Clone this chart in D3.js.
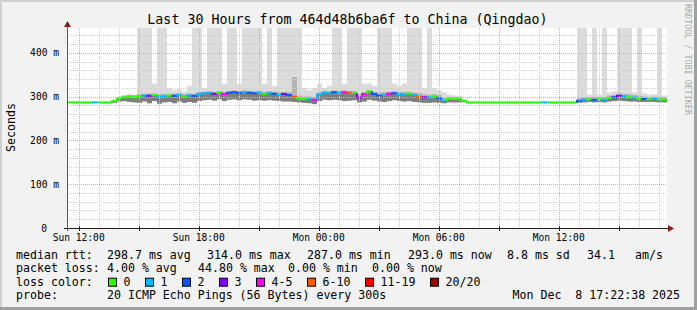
<!DOCTYPE html>
<html>
<head>
<meta charset="utf-8">
<script src="https://cdn.jsdelivr.net/npm/d3@7"></script>
<style>
  body { margin: 0; background: #fff; }
  svg { display: block; }
  text { font-family: "DejaVu Sans Mono", monospace; fill: #000; }
</style>
</head>
<body>
<svg id="chart" width="697" height="310"></svg>
<script>
// ---- data (one value per 15 minutes, 30 hours) ----
const chartTitle = 'Last 30 Hours from 464d48b6ba6f to China (Qingdao)';
const endTime = new Date(2025, 11, 8, 17, 25, 0);
const stepMinutes = 15;

const medianMs = [
  287,287,287,287,287,287,287,287,287,290,
  296,299,300,299,301,303,302,304,300,301,
  303,302,304,301,303,302,306,308,308,307,
  309,306,309,310,309,310,309,308,309,306,
  308,307,305,306,304,300,296,295,294,293,
  305,309,308,310,309,310,309,308,298,306,
  312,306,303,304,307,308,306,305,307,304,
  300,299,299,300,297,290,295,294,295,290,
  287,287,287,287,287,287,287,287,287,287,
  287,287,287,287,287,287,287,287,287,287,
  287,287,291,293,294,293,294,293,297,299,
  302,301,299,298,296,295,294,295,294,293
];
const lossCount = [
  0,0,0,0,0,1,0,0,0,0,
  0,0,0,0,0,1,3,0,1,1,
  0,2,1,0,1,2,1,1,1,3,
  0,4,2,2,2,1,2,2,1,0,
  1,2,1,3,2,6,0,0,1,4,
  1,1,1,2,1,4,6,0,3,4,
  0,2,2,1,4,2,1,1,0,1,
  6,3,1,0,2,1,0,0,0,0,
  0,0,0,0,0,0,0,0,0,0,
  0,0,0,0,0,1,0,0,0,0,
  0,0,2,1,0,2,0,1,0,2,
  3,1,0,1,0,2,0,1,0,0
];
const smokeLow = [
  287,287,287,287,287,287,287,287,287,286,
  289,290,288,287,286,289,285,290,284,287,
  288,285,289,286,288,286,290,292,293,291,
  294,290,293,294,292,294,293,291,292,291,
  292,291,290,289,289,288,287,286,285,283,
  290,293,292,293,292,290,291,292,287,289,
  293,291,289,288,290,292,290,289,290,288,
  287,286,286,287,286,285,287,287,287,287,
  287,287,287,287,287,287,287,287,287,287,
  287,287,287,287,287,287,287,287,287,287,
  287,287,286,287,288,287,288,287,289,290,
  291,290,289,289,288,288,288,288,287,287
];
const smokeHigh = [
  287,287,287,287,287,287,287,287,287,293,
  300,303,305,304,306,307,308,308,306,307,
  307,308,309,306,308,307,311,312,313,312,
  313,312,314,315,313,315,314,313,314,312,
  313,312,311,312,311,345,303,301,301,300,
  310,314,313,315,314,315,314,313,306,311,
  316,312,310,311,312,313,312,311,312,310,
  309,306,305,306,304,298,300,299,299,293,
  287,287,287,287,287,287,287,287,287,287,
  287,287,287,287,287,287,287,287,287,287,
  287,287,297,299,299,300,299,300,303,305,
  308,307,306,304,303,301,300,301,300,299
];
// highest ping of the step (600 = beyond the top of the graph)
const pingMax = [
  287,287,287,287,287,287,287,287,287,293,
  300,303,305,304,600,600,600,330,600,600,
  320,315,318,312,325,600,600,320,600,600,
  600,330,600,600,330,600,600,600,600,330,
  600,325,600,600,600,600,600,320,315,320,
  330,320,325,600,600,330,600,600,600,330,
  330,325,600,600,600,330,325,330,600,600,
  600,320,600,320,315,310,305,303,302,295,
  287,287,287,287,287,287,287,287,287,287,
  287,287,287,287,287,287,287,287,287,287,
  287,287,600,600,305,600,305,600,310,312,
  600,600,600,310,600,308,305,306,600,303
];

const yTicks = [0, 100, 200, 300, 400];
const yMax = 457;
const lossLabels = ['0', '1', '2', '3', '4-5', '6-10', '11-19', '20/20'];
const lossUpper  = [0, 1, 2, 3, 5, 10, 19, 20];
const lossColors = ['#26ff00', '#00b8ff', '#0059ff', '#7e00ff', '#ff00ff', '#ff5500', '#ff0000', '#a10000'];

const statsRtt  = ['298.7 ms avg', '314.0 ms max', '287.0 ms min', '293.0 ms now', '8.8 ms sd', '34.1', 'am/s'];
const statsLoss = ['4.00 % avg', '44.80 % max', '0.00 % min', '0.00 % now'];
const probeText = '20 ICMP Echo Pings (56 Bytes) every 300s';
const stampText = 'Mon Dec  8 17:22:38 2025';

// ---- layout ----
const W = 697, H = 310;
const plot = { left: 67, right: 667, top: 28, bottom: 228 };

const svg = d3.select('#chart');

// background + 3d frame
svg.append('rect').attr('width', W).attr('height', H).attr('fill', '#f2f2f2');
svg.append('rect').attr('x', 0).attr('y', 0).attr('width', W).attr('height', 2).attr('fill', '#d0d0d0');
svg.append('rect').attr('x', 0).attr('y', 0).attr('width', 2).attr('height', H).attr('fill', '#d0d0d0');
svg.append('rect').attr('x', 0).attr('y', H - 3).attr('width', W).attr('height', 3).attr('fill', '#a0a0a0');
svg.append('rect').attr('x', W - 3).attr('y', 0).attr('width', 3).attr('height', H).attr('fill', '#a0a0a0');

svg.append('rect')
  .attr('x', plot.left).attr('y', plot.top)
  .attr('width', plot.right - plot.left).attr('height', plot.bottom - plot.top)
  .attr('fill', '#fff');

const startTime = d3.timeHour.offset(endTime, -30);
const times = d3.range(medianMs.length + 1).map(i => d3.timeMinute.offset(startTime, i * stepMinutes));

const x = d3.scaleTime().domain([startTime, endTime]).range([plot.left, plot.right]);
const y = d3.scaleLinear().domain([0, yMax]).range([plot.bottom, plot.top]);

function lossColor(n) {
  let k = lossUpper.findIndex(u => n <= u);
  return lossColors[k < 0 ? lossColors.length - 1 : k];
}

svg.append('clipPath').attr('id', 'clip')
  .append('rect')
  .attr('x', plot.left).attr('y', plot.top)
  .attr('width', plot.right - plot.left).attr('height', plot.bottom - plot.top);

let data = medianMs.map((m, i) => ({
  t0: times[i], t1: times[i + 1], med: m, loss: lossCount[i],
  lo: smokeLow[i], hi: smokeHigh[i], top: pingMax[i]
}));

let g = svg.append('g').attr('clip-path', 'url(#clip)');

// smoke: light part up to highest ping
g.selectAll('.smoke-top')
  .data(data.filter(d => d.top > d.hi))
  .enter().append('rect')
  .attr('class', 'smoke-top')
  .attr('x', d => x(d.t0))
  .attr('width', d => x(d.t1) - x(d.t0))
  .attr('y', d => y(d.top))
  .attr('height', d => y(d.hi) - y(d.top))
  .attr('fill', '#dcdcdc');

// smoke: dense part
g.selectAll('.smoke')
  .data(data.filter(d => d.hi > d.lo))
  .enter().append('rect')
  .attr('class', 'smoke')
  .attr('x', d => x(d.t0))
  .attr('width', d => x(d.t1) - x(d.t0))
  .attr('y', d => y(d.hi))
  .attr('height', d => y(d.lo) - y(d.hi))
  .attr('fill', '#b4b4b4');

g.selectAll('.smoke-low')
  .data(data.filter(d => d.med > d.lo))
  .enter().append('rect')
  .attr('class', 'smoke-low')
  .attr('x', d => x(d.t0))
  .attr('width', d => x(d.t1) - x(d.t0))
  .attr('y', d => y(d.med))
  .attr('height', d => y(d.lo) - y(d.med))
  .attr('fill', 'rgba(0,0,0,0.3)');

// grid (dotted, drawn over the data like rrdtool)
let grid = svg.append('g');
let hours = d3.timeHour.range(d3.timeHour.ceil(startTime), endTime);
hours.forEach(h => {
  let major = h.getHours() % 3 === 0;
  grid.append('line')
    .attr('x1', Math.round(x(h)) + 0.5).attr('x2', Math.round(x(h)) + 0.5)
    .attr('y1', plot.top).attr('y2', plot.bottom)
    .attr('stroke', major ? '#ff9a9a' : '#cfcfcf')
    .attr('stroke-dasharray', '1,1');
});
d3.range(20, yMax, 20).forEach(v => {
  let major = v % 100 === 0;
  grid.append('line')
    .attr('x1', plot.left).attr('x2', plot.right)
    .attr('y1', Math.round(y(v)) + 0.5).attr('y2', Math.round(y(v)) + 0.5)
    .attr('stroke', major ? '#ff9a9a' : '#cfcfcf')
    .attr('stroke-dasharray', '1,1');
});

// median line coloured by loss
g.selectAll('.median')
  .data(data)
  .enter().append('path')
  .attr('class', 'median')
  .attr('d', (d, i) => {
    let prev = i > 0 ? data[i - 1].med : d.med;
    return 'M' + x(d.t0) + ',' + y(prev) + 'V' + y(d.med) + 'H' + x(d.t1);
  })
  .attr('fill', 'none')
  .attr('stroke', d => lossColor(d.loss))
  .attr('stroke-width', 2);

// axes
svg.append('line')
  .attr('x1', plot.left - 3).attr('x2', plot.right + 1)
  .attr('y1', plot.bottom + 0.5).attr('y2', plot.bottom + 0.5)
  .attr('stroke', '#222');
svg.append('line')
  .attr('x1', plot.left + 0.5).attr('x2', plot.left + 0.5)
  .attr('y1', plot.bottom + 3).attr('y2', plot.top - 2)
  .attr('stroke', '#555');
svg.append('path')
  .attr('d', `M${plot.right + 1},${plot.bottom - 3}L${plot.right + 7},${plot.bottom + 0.5}L${plot.right + 1},${plot.bottom + 4}Z`)
  .attr('fill', '#8b1a1a');
svg.append('path')
  .attr('d', `M${plot.left - 3},${plot.top - 1}L${plot.left + 0.5},${plot.top - 7}L${plot.left + 4},${plot.top - 1}Z`)
  .attr('fill', '#8b1a1a');

// tick marks on the axes
hours.filter(h => h.getHours() % 3 === 0).forEach(h => {
  svg.append('line')
    .attr('x1', Math.round(x(h)) + 0.5).attr('x2', Math.round(x(h)) + 0.5)
    .attr('y1', plot.bottom - 2).attr('y2', plot.bottom + 3)
    .attr('stroke', '#222');
});

// y labels
yTicks.forEach(v => {
  svg.append('text')
    .attr('x', v === 0 ? 47 : 59)
    .attr('y', y(v) + 3.5)
    .attr('text-anchor', 'end')
    .style('font-size', '9.6px')
    .text(v === 0 ? '0' : v + ' m');
});

// x labels
const fmt = d3.timeFormat('%a %H:%M');
hours.filter(h => h.getHours() % 6 === 0).forEach(h => {
  svg.append('text')
    .attr('x', x(h))
    .attr('y', 241)
    .attr('text-anchor', 'middle')
    .style('font-size', '9.6px')
    .text(fmt(h));
});

// title
svg.append('text')
  .attr('x', 347.5).attr('y', 23.5)
  .attr('text-anchor', 'middle')
  .style('font-size', '13.3px')
  .text(chartTitle);

// y axis title
svg.append('text')
  .attr('transform', 'translate(15,127.5) rotate(-90)')
  .attr('text-anchor', 'middle')
  .style('font-size', '11.6px')
  .text('Seconds');

// watermark
svg.append('text')
  .attr('transform', 'translate(685,59.5) rotate(90)')
  .attr('text-anchor', 'middle')
  .style('font-size', '8.4px')
  .style('fill', '#aaaaaa')
  .text('RRDTOOL / TOBI OETIKER');

// legend
const legendFont = '11.6px';
function legendText(str, lx, ly) {
  svg.append('text')
    .attr('x', lx).attr('y', ly)
    .attr('xml:space', 'preserve')
    .style('font-size', legendFont)
    .text(str);
}
const rowY = [258.5, 272.1, 285.7, 299.3];
const rttX = [107, 207, 307, 408, 507, 587, 635];
const lossX = [107, 198, 288, 372];

legendText('median rtt:', 16, rowY[0]);
statsRtt.forEach((s, i) => legendText(s, rttX[i], rowY[0]));
legendText('packet loss:', 16, rowY[1]);
statsLoss.forEach((s, i) => legendText(s, lossX[i], rowY[1]));
legendText('loss color:', 16, rowY[2]);

let lx = 108;
lossLabels.forEach((lab, i) => {
  svg.append('rect')
    .attr('x', lx + 0.5).attr('y', rowY[2] - 7.5)
    .attr('width', 8).attr('height', 8)
    .attr('fill', lossColors[i])
    .attr('stroke', '#000');
  legendText(lab, lx + 15.5, rowY[2]);
  lx += lab.length * 7 + 30;
});

legendText('probe:', 16, rowY[3]);
legendText(probeText, 107, rowY[3]);
legendText(stampText, 512.5, rowY[3]);
</script>
</body>
</html>
